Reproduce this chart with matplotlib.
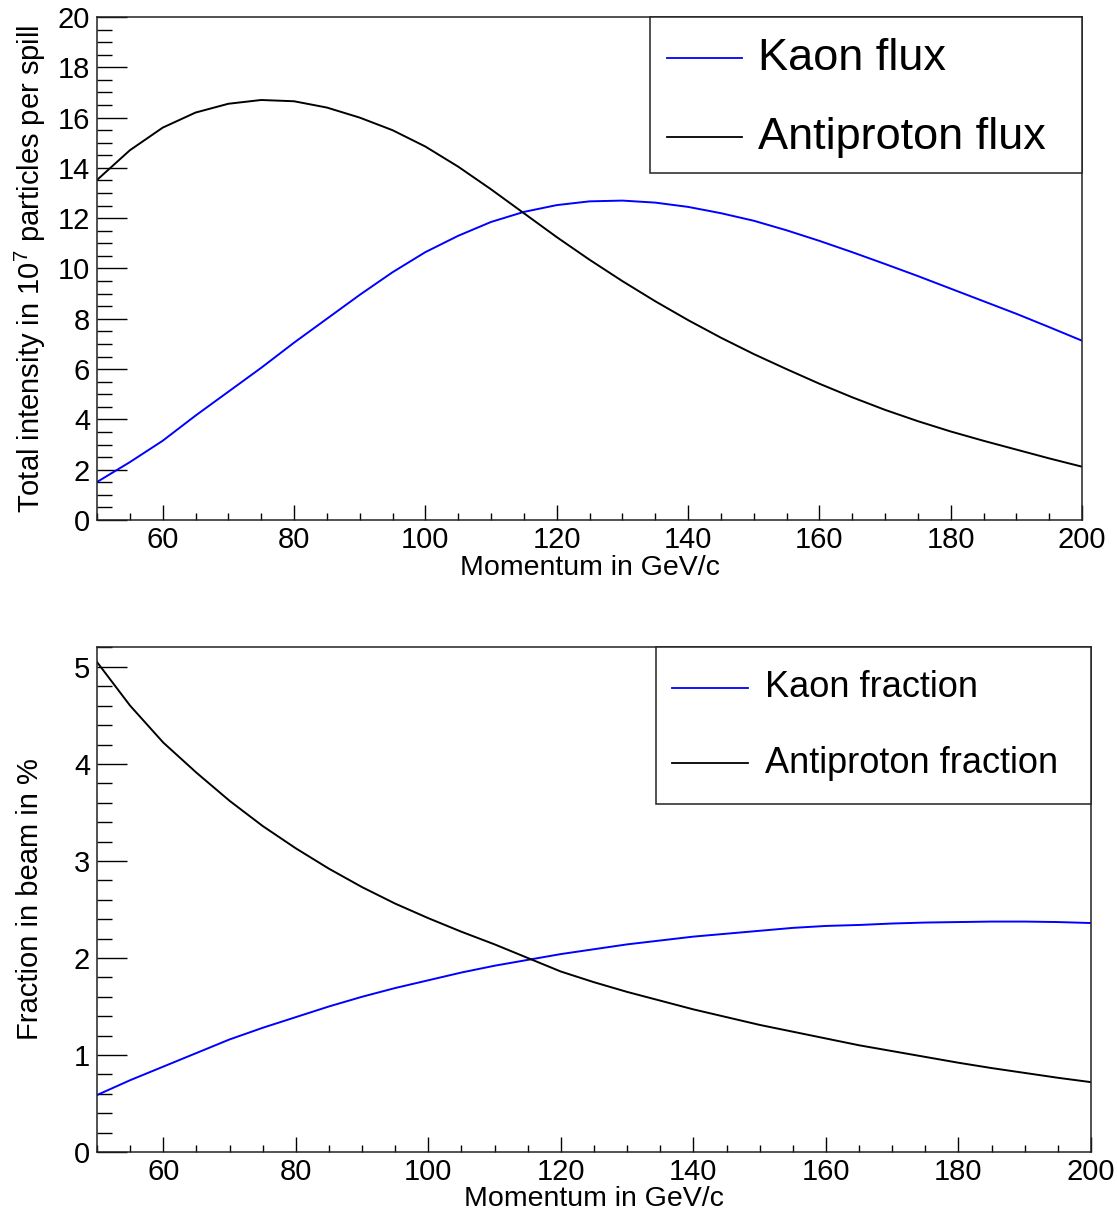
import numpy as np
import matplotlib
matplotlib.use('Agg')
import matplotlib.pyplot as plt
from matplotlib.patches import Rectangle
from matplotlib.ticker import MultipleLocator

plt.rcParams['font.family'] = ['Liberation Sans', 'DejaVu Sans']
plt.rcParams['mathtext.fontset'] = 'custom'
plt.rcParams['mathtext.rm'] = 'Liberation Sans'
plt.rcParams['mathtext.it'] = 'Liberation Sans'

# momentum in GeV/c
momentum = [50, 55, 60, 65, 70, 75, 80, 85, 90, 95, 100, 105, 110, 115, 120, 125,
            130, 135, 140, 145, 150, 155, 160, 165, 170, 175, 180, 185, 190, 195, 200]

# flux in 10^7 particles per spill
kaon_flux = [1.51, 2.3, 3.15, 4.15, 5.1, 6.05, 7.05, 8.0, 8.95, 9.85, 10.65, 11.3, 11.85,
             12.25, 12.52, 12.67, 12.7, 12.62, 12.45, 12.2, 11.9, 11.52, 11.1, 10.65,
             10.18, 9.7, 9.2, 8.7, 8.2, 7.67, 7.13]
antiproton_flux = [13.52, 14.7, 15.6, 16.2, 16.55, 16.7, 16.65, 16.4, 16.0, 15.5, 14.85,
                   14.05, 13.15, 12.2, 11.25, 10.35, 9.5, 8.7, 7.95, 7.25, 6.6, 6.0, 5.42,
                   4.88, 4.38, 3.93, 3.52, 3.15, 2.8, 2.45, 2.12]

# fraction in beam, %
kaon_frac = [0.587, 0.74, 0.88, 1.02, 1.16, 1.28, 1.39, 1.5, 1.6, 1.69, 1.77, 1.85, 1.92,
             1.98, 2.04, 2.09, 2.14, 2.18, 2.22, 2.25, 2.28, 2.31, 2.33, 2.34, 2.355,
             2.365, 2.37, 2.375, 2.375, 2.37, 2.36]
antiproton_frac = [5.05, 4.6, 4.22, 3.91, 3.62, 3.36, 3.13, 2.92, 2.73, 2.56, 2.41, 2.27,
                   2.14, 2.0, 1.86, 1.75, 1.65, 1.56, 1.47, 1.39, 1.31, 1.24, 1.17, 1.1,
                   1.04, 0.98, 0.92, 0.865, 0.815, 0.765, 0.72]

W, H = 1117, 1213
fig = plt.figure(figsize=(W / 100, H / 100), dpi=100)

# axes placed by pixel boxes (left, top, right, bottom)
ax1 = fig.add_axes([97 / W, 1 - 520 / H, (1082 - 97) / W, (520 - 17) / H])
ax2 = fig.add_axes([97 / W, 1 - 1152 / H, (1091 - 97) / W, (1152 - 647) / H])

blue = '#0000ff'


def style_axis(ax, ymin, ymax, ymaj, ymin_step, ylen_major):
    ax.set_xlim(50, 200)
    ax.set_ylim(ymin, ymax)
    ax.xaxis.set_major_locator(MultipleLocator(20))
    ax.xaxis.set_minor_locator(MultipleLocator(5))
    ax.yaxis.set_major_locator(MultipleLocator(ymaj))
    ax.yaxis.set_minor_locator(MultipleLocator(ymin_step))
    ax.tick_params(axis='both', which='both', direction='in', top=False, right=False,
                   labelsize=21, color='black', width=1.0)
    ax.tick_params(axis='y', which='major', length=ylen_major, pad=5)
    ax.tick_params(axis='y', which='minor', length=ylen_major / 2)
    ax.tick_params(axis='x', which='major', length=10.8, pad=4)
    ax.tick_params(axis='x', which='minor', length=5.4)
    for s in ax.spines.values():
        s.set_linewidth(1.1)
        s.set_color('#222222')


def legend_box(ax, entries, fontsize, box_x0, box_y0, line_x, text_x):
    ax.add_patch(Rectangle((box_x0, box_y0), 1 - box_x0, 1 - box_y0, transform=ax.transAxes,
                           facecolor='white', edgecolor='#222222', linewidth=1.1,
                           zorder=5, clip_on=False))
    for label, color, yy in entries:
        ax.plot(line_x, [yy, yy], transform=ax.transAxes, color=color, lw=1.3,
                zorder=6, clip_on=False)
        ax.text(text_x, yy, label, transform=ax.transAxes, fontsize=fontsize,
                va='center', ha='left', zorder=6)


# top: flux
ax1.plot(momentum, kaon_flux, color=blue, lw=1.4)
ax1.plot(momentum, antiproton_flux, color='black', lw=1.4)
style_axis(ax1, 0, 20, 2, 0.5, 21.3)
ax1.set_xlabel('Momentum in GeV/c', fontsize=20.5)
ax1.set_ylabel(r'Total intensity in 10$^{7}$ particles per spill', fontsize=21)
ax1.xaxis.set_label_coords(0.5, -0.096)
ax1.xaxis.label.set_va('center')
ax1.yaxis.set_label_coords(-0.068, 0.5)
ax1.yaxis.label.set_va('center')
legend_box(ax1, [('Kaon flux', blue, 0.918), ('Antiproton flux', 'black', 0.761)],
           32.5, 0.561, 0.690, [0.579, 0.655], 0.671)

# bottom: fractions
ax2.plot(momentum, kaon_frac, color=blue, lw=1.4)
ax2.plot(momentum, antiproton_frac, color='black', lw=1.4)
style_axis(ax2, 0, 5.205, 1, 0.2, 21.5)
ax2.set_xlabel('Momentum in GeV/c', fontsize=20.5)
ax2.set_ylabel('Fraction in beam in %', fontsize=21)
ax2.xaxis.set_label_coords(0.5, -0.094)
ax2.xaxis.label.set_va('center')
ax2.yaxis.set_label_coords(-0.0674, 0.5)
ax2.yaxis.label.set_va('center')
legend_box(ax2, [('Kaon fraction', blue, 0.919), ('Antiproton fraction', 'black', 0.770)],
           26, 0.562, 0.689, [0.578, 0.655], 0.672)

fig.savefig('out.png', dpi=100)
